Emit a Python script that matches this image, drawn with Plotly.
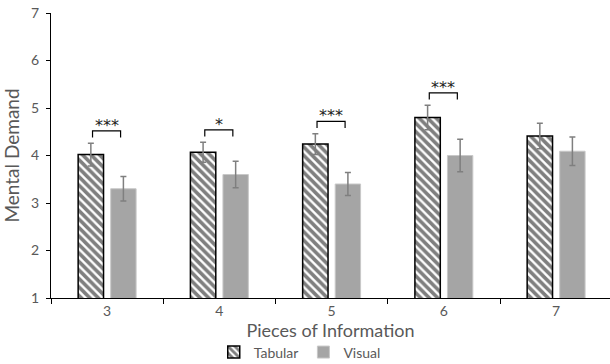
import plotly.graph_objects as go

categories = ["3", "4", "5", "6", "7"]
tabular = [4.02, 4.07, 4.24, 4.80, 4.41]
tabular_err = [0.24, 0.21, 0.22, 0.26, 0.27]
visual = [3.30, 3.60, 3.40, 4.00, 4.09]
visual_err = [0.26, 0.28, 0.24, 0.34, 0.30]
significance = ["***", "*", "***", "***", ""]

TXT = "#595959"
FONT = "Lato"

fig = go.Figure()
fig.add_trace(go.Bar(
    name="Tabular", x=categories, y=tabular,
    marker=dict(color="white", line=dict(color="black", width=1.5),
                pattern=dict(shape="\\", fgcolor="black", bgcolor="white",
                             size=6, solidity=0.6)),
    error_y=dict(type="data", array=tabular_err, color="#7f7f7f",
                 thickness=1.5, width=3),
))
fig.add_trace(go.Bar(
    name="Visual", x=categories, y=visual,
    marker=dict(color="#a5a5a5", line=dict(color="#c8c8c8", width=1)),
    error_y=dict(type="data", array=visual_err, color="#7f7f7f",
                 thickness=1.5, width=3),
))

for i, s in enumerate(significance):
    if not s:
        continue
    base = max(tabular[i] + tabular_err[i], visual[i] + visual_err[i]) + 0.12
    top = base + 0.14
    fig.add_shape(type="path", xref="x", yref="y",
                  path=f"M {i-0.13},{base} L {i-0.13},{top} L {i+0.12},{top} L {i+0.12},{base}",
                  line=dict(color="black", width=1.2))
    fig.add_annotation(x=i - 0.005, y=top, xref="x", yref="y", text=s,
                       showarrow=False, yanchor="bottom", yshift=-6,
                       font=dict(family="DejaVu Sans", size=16, color="#222222"))

fig.update_layout(
    width=610, height=364,
    margin=dict(l=51, r=0, t=13, b=66, autoexpand=False),
    paper_bgcolor="white", plot_bgcolor="white",
    barmode="group", bargap=0.42, bargroupgap=0.22,
    font=dict(family=FONT, color=TXT, size=14),
    showlegend=True,
    legend=dict(orientation="h", x=0.445, xanchor="center", y=-0.135, yanchor="top",
                font=dict(family=FONT, size=14, color=TXT), itemwidth=30,
                traceorder="normal", tracegroupgap=0),
    xaxis=dict(title=dict(text="Pieces of Information", font=dict(size=18, color=TXT), standoff=0),
               automargin=False,
               showline=True, linecolor="black", linewidth=1,
               ticks="outside", tickson="boundaries", ticklen=5, tickcolor="black",
               tickfont=dict(size=14, color=TXT), range=[-0.5, 4.48],
               showgrid=False),
    yaxis=dict(title=dict(text="Mental Demand", font=dict(size=19, color=TXT), standoff=8),
               automargin=False, ticklabelstandoff=4,
               range=[1, 7], dtick=1, showline=True, linecolor="black", linewidth=1,
               ticks="outside", ticklen=4, tickcolor="black",
               tickfont=dict(size=14, color=TXT), showgrid=False, zeroline=False),
)

fig.write_html("out.html", config={"displayModeBar": False},
               post_script="document.body.style.margin='0';")
